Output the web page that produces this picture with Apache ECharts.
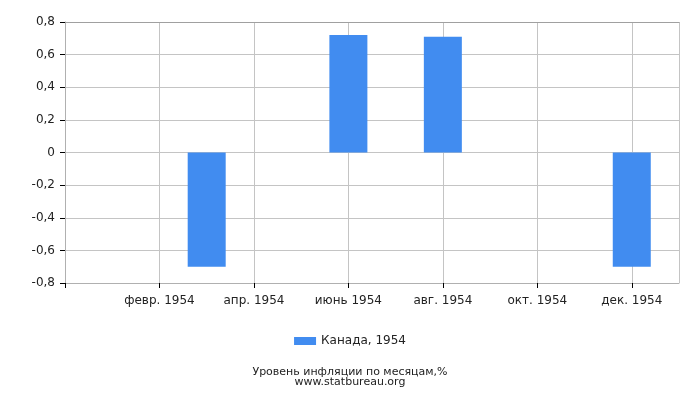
<!DOCTYPE html>
<html>
<head>
<meta charset="utf-8">
<script src="https://cdn.jsdelivr.net/npm/echarts@6/dist/echarts.min.js"></script>
<style>html,body{margin:0;padding:0;background:#fff}#c{width:700px;height:400px}</style>
</head>
<body>
<div id="c"></div>
<script>
var months = ['янв. 1954','февр. 1954','март 1954','апр. 1954','май 1954','июнь 1954','июль 1954','авг. 1954','сент. 1954','окт. 1954','нояб. 1954','дек. 1954'];
var values = [0, 0, -0.7, 0, 0, 0.72, 0, 0.71, 0, 0, 0, -0.7];
var seriesName = 'Канада, 1954';
var yTicks = [-0.8, -0.6, -0.4, -0.2, 0, 0.2, 0.4, 0.6, 0.8];
var titleLines = ['Уровень инфляции по месяцам,%', 'www.statbureau.org'];

// pad half-slot on each side (axis spans 13 month steps)
var axisCats = [''].concat(months, ['']);
var axisVals = [null].concat(values, [null]);
var font = 'DejaVu Sans';

var chart = echarts.init(document.getElementById('c'));
chart.setOption({
  animation: false,
  textStyle: {fontFamily: font},
  grid: {left: 65, right: 21, top: 22, bottom: 117},
  title: {
    text: titleLines.join('\n'),
    left: 'center', top: 362,
    textStyle: {fontFamily: font, fontSize: 11, fontWeight: 'normal', color: '#222', lineHeight: 10}
  },
  legend: {
    data: [seriesName], top: 330, left: 'center', icon: 'rect',
    itemWidth: 22, itemHeight: 8, itemGap: 5,
    textStyle: {fontFamily: font, fontSize: 12, color: '#222'}
  },
  xAxis: [{
    type: 'category', data: axisCats, boundaryGap: false,
    axisLine: {onZero: false, lineStyle: {color: '#b0b0b0'}},
    axisTick: {show: true, length: 5, lineStyle: {color: '#000'},
      interval: function (i) { return i % 2 === 0 && i < 13; }},
    axisLabel: {margin: 12, fontSize: 12, color: '#222', fontFamily: font,
      interval: function (i) { return i % 2 === 0 && i > 0 && i < 13; }},
    splitLine: {show: true, lineStyle: {color: '#c4c4c4'},
      interval: function (i) { return (i % 2 === 0 && i > 0) || i === 13; }}
  }, {
    type: 'category', data: axisCats, boundaryGap: false, position: 'top',
    axisLine: {show: true, onZero: false, lineStyle: {color: '#a0a0a0'}},
    axisTick: {show: false}, axisLabel: {show: false}, splitLine: {show: false}
  }],
  yAxis: {
    type: 'value', min: yTicks[0], max: yTicks[yTicks.length - 1], interval: 0.2,
    axisLine: {show: true, lineStyle: {color: '#b0b0b0'}},
    axisTick: {show: true, length: 5, lineStyle: {color: '#000'}},
    axisLabel: {margin: 10, fontSize: 12, color: '#222', fontFamily: font,
      formatter: function (v) {
        var r = Math.round(v * 10) / 10;
        return r === 0 ? '0' : String(r).replace('.', ',');
      }},
    splitLine: {show: true, lineStyle: {color: '#c4c4c4'}}
  },
  series: [{
    name: seriesName, type: 'bar', data: axisVals, barWidth: 38,
    itemStyle: {color: '#418cf0'}
  }]
});
</script>
</body>
</html>
